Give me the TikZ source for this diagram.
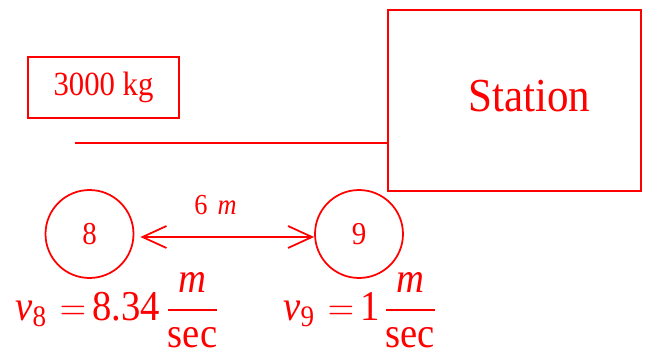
\documentclass[tikz,border=0pt]{standalone}
\usepackage{fontspec}
\usepackage{amsmath}
\usepackage{graphicx}
\setmainfont{Liberation Serif}
\usetikzlibrary{arrows.meta}
\newcommand{\tallfont}[1]{\scalebox{1}[1.1]{#1}}
\begin{document}
\begin{tikzpicture}[x=0.02cm, y=-0.02cm, every node/.style={red}, box/.style={rectangle, draw=red, line width=1pt}, ball/.style={circle, draw=red, line width=1pt, minimum size=1.76cm, inner sep=0pt, font=\fontsize{16.5}{19}\selectfont}, eqn/.style={anchor=base west, inner sep=0pt, font=\fontsize{22}{26}\selectfont}]

		\useasboundingbox (0,0) rectangle (656,358);

		\node[box, minimum width=3.02cm, minimum height=1.22cm, font=\fontsize{17.5}{20}\selectfont] (mass) at (103.5,87.5) {\tallfont{3000 kg}};
		\node[box, minimum width=5.06cm, minimum height=3.62cm, font=\fontsize{24.5}{28}\selectfont] (station) at (514.5,100.5) {\raisebox{0.2cm}{\hspace{0.6cm}\tallfont{Station}}};
		\coordinate (rope) at (75,143);

		\node[ball] (8) at (89.5,234) {\tallfont{8}};
		\node[ball] (9) at (359,234) {\tallfont{9}};
		\node[font=\fontsize{15}{17}\selectfont] (dist) at (215.5,205) {\tallfont{6\hspace{0.2cm}\textit{m}}};

		\node[eqn] (v8) at (15,320) {\tallfont{$\textit{v}_{\text{8}}\hspace{0.26cm}{=}\hspace{0.12cm}\text{8.34}\hspace{0.12cm}\dfrac{\textit{m}}{\rule{0pt}{0.72em}\text{sec}}$}};
		\node[eqn] (v9) at (283,320) {\tallfont{$\textit{v}_{\text{9}}\hspace{0.26cm}{=}\hspace{0.12cm}\text{1}\hspace{0.08cm}\dfrac{\textit{m}}{\rule{0pt}{0.72em}\text{sec}}$}};

		\draw[red, line width=1pt] (rope) -- (rope -| station.west);
		\draw[red, line width=1pt, shorten <=0.12cm, {Straight Barb[length=0.48cm, width=0.44cm]}-{Straight Barb[length=0.48cm, width=0.44cm]}] ([yshift=-0.06cm]8.east) -- ([yshift=-0.06cm]9.west);
	\end{tikzpicture}
\end{document}
